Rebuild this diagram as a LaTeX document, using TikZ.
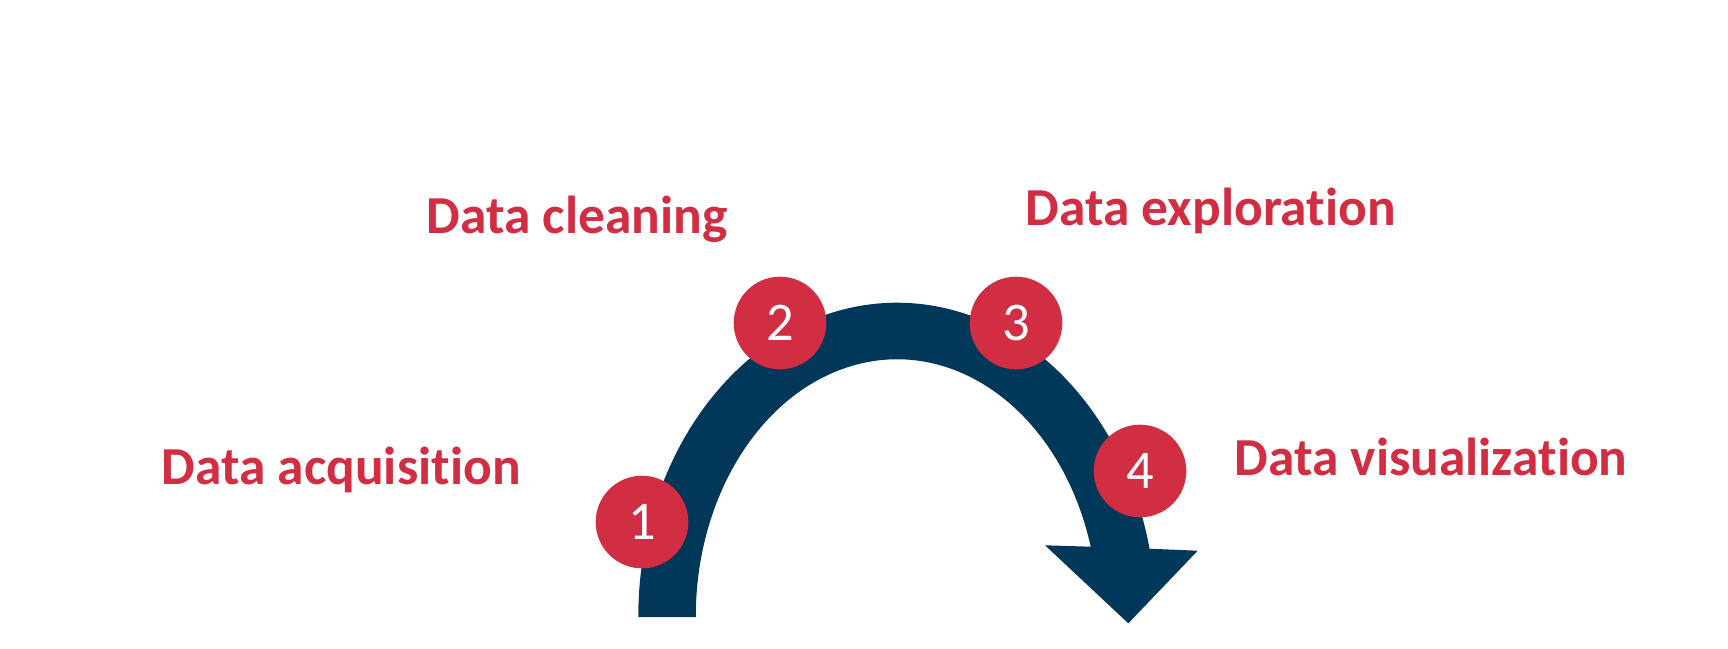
\documentclass[tikz,border=0pt]{standalone}
\usepackage{fontspec}
\setmainfont{Carlito}[Ligatures=NoCommon]
\definecolor{stepred}{RGB}{210,46,67}
\definecolor{arcblue}{RGB}{1,55,89}
\tikzstyle{band}=[fill=arcblue]
\tikzstyle{stepdot}=[circle, fill=stepred, text=white, minimum size=0.926cm, inner sep=0pt, font=\fontsize{15.5}{15.5}\selectfont]
\tikzstyle{steplabel}=[anchor=base west, inner sep=0pt, text=stepred, font=\fontsize{15.2}{17}\selectfont\bfseries]

\begin{document}
\begin{tikzpicture}[x=0.01cm, y=-0.01cm]
          \useasboundingbox (0, 0) rectangle (1728, 648);
          \coordinate (outerfoot) at (638.3, 617);
          \coordinate (innerend) at (1090.7, 546.7);
          \coordinate (wingright) at (1197.7, 550.7);
          \coordinate (tip) at (1128.3, 623.3);
          \coordinate (wingleft) at (1045, 545.3);
          \fill[band]
            (outerfoot)
            arc[start angle=180, end angle=347.45, x radius=258.7, y radius=314.3]
            -- (wingright)
            -- (tip)
            -- (wingleft)
            -- (innerend)
            arc[start angle=344.17, end angle=180, x radius=201.3, y radius=257.7]
            -- cycle;
          \node[stepdot] (s1) at (642, 522) {1};
          \node[stepdot] (s2) at (780, 323) {2};
          \node[stepdot] (s3) at (1016, 323) {3};
          \node[stepdot] (s4) at (1140, 471) {4};
          \node[steplabel] (l1) at (161, 484) {Data acquisition};
          \node[steplabel] (l2) at (426, 233.3) {Data cleaning};
          \node[steplabel] (l3) at (1025, 225) {Data exploration};
          \node[steplabel] (l4) at (1234, 475) {Data visualization};
        \end{tikzpicture}
\end{document}
